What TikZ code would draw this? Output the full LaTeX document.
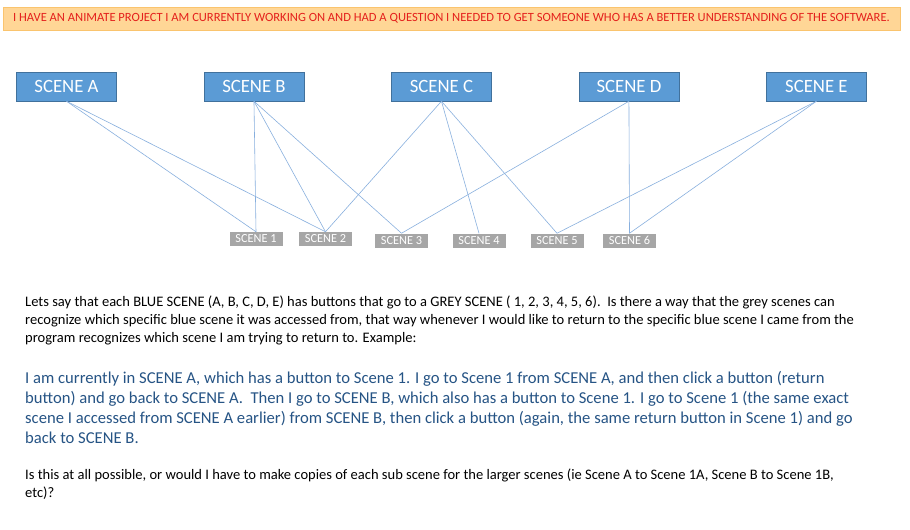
\documentclass[tikz,border=0pt]{standalone}
\usepackage{fontspec}
\setmainfont{Carlito}
\usepackage{tikz}
\usetikzlibrary{positioning}
\usepackage{xcolor}
\definecolor{scblue}{RGB}{91,155,213}
\definecolor{scblueline}{RGB}{65,113,156}
\definecolor{scgrey}{RGB}{166,166,166}
\definecolor{sclink}{RGB}{135,175,222}
\definecolor{banfill}{RGB}{255,214,150}
\definecolor{banline}{RGB}{250,196,110}
\definecolor{banred}{RGB}{228,32,28}
\definecolor{exblue}{RGB}{38,84,133}
\tikzstyle{bluescene} = [rectangle, minimum width=3cm, minimum height=0.87cm, text centered, draw=scblueline, fill=scblue, text=white, font=\fontsize{16}{19}\selectfont]
\tikzstyle{greyscene} = [rectangle, minimum width=1.59cm, minimum height=0.42cm, inner sep=0pt, fill=scgrey, text=white, font=\fontsize{10.5}{12}\selectfont]
\tikzstyle{link} = [line width=0.5pt, color=sclink]
\tikzstyle{para} = [anchor=base west, align=left, inner sep=0pt, font=\fontsize{12.4}{15.3}\selectfont]

\begin{document}
\begin{tikzpicture}[x=0.03cm, y=-0.03cm]
\fill[white] (0,0) rectangle (910,530);
\useasboundingbox (0,0) rectangle (910,530);

% Banner
\node[draw=banline, fill=banfill, minimum width=26.91cm, minimum height=0.69cm, text=banred, font=\fontsize{10.7}{12}\selectfont] (banner) at (451.5,18.5) {
I HAVE AN ANIMATE PROJECT I AM CURRENTLY WORKING ON AND HAD A QUESTION I NEEDED TO GET SOMEONE WHO HAS A BETTER UNDERSTANDING OF THE SOFTWARE.
};

% Blue scenes
\node[bluescene] (sa) at (66.5,86.5) {SCENE A};
\node[bluescene, right=2.61cm of sa] (sb) {SCENE B};
\node[bluescene, right=2.61cm of sb] (sc) {SCENE C};
\node[bluescene, right=2.61cm of sc] (sd) {SCENE D};
\node[bluescene, right=2.61cm of sd] (se) {SCENE E};

% Grey scenes
\node[greyscene] (s1) at (256,239) {SCENE 1};
\node[greyscene] (s2) at (325.5,239) {SCENE 2};
\node[greyscene] (s3) at (401.5,240.5) {SCENE 3};
\node[greyscene] (s4) at (479,240.5) {SCENE 4};
\node[greyscene] (s5) at (557,240.5) {SCENE 5};
\node[greyscene] (s6) at (629.5,240.5) {SCENE 6};

% Links
\draw[link] (sa.south) -- (s1.north);
\draw[link] (sa.south) -- (s2.north);
\draw[link] (sb.south) -- (s1.north);
\draw[link] (sb.south) -- (s2.north);
\draw[link] (sb.south) -- (s3.north);
\draw[link] (sc.south) -- (s2.north);
\draw[link] (sc.south) -- (s4.north);
\draw[link] (sc.south) -- (s5.north);
\draw[link] (sd.south) -- (s3.north);
\draw[link] (sd.south) -- (s6.north);
\draw[link] (se.south) -- (s5.north);
\draw[link] (se.south) -- (s6.north);

% Question text (base = last line)
\node[para] (q1) at (25,342) {
Lets say that each BLUE SCENE (A, B, C, D, E) has buttons that go to a GREY SCENE ( 1, 2, 3, 4, 5, 6).\ \ Is there a way that the grey scenes can\\
recognize which specific blue scene it was accessed from, that way whenever I would like to return to the specific blue scene I came from the\\
program recognizes which scene I am trying to return to. Example:
};
\node[para, text=exblue, font=\fontsize{14.2}{16.8}\selectfont] (q2) at (25,443) {
I am currently in SCENE A, which has a button to Scene 1. I go to Scene 1 from SCENE A, and then click a button (return\\
button) and go back to SCENE A.\ \ Then I go to SCENE B, which also has a button to Scene 1. I go to Scene 1 (the same exact\\
scene I accessed from SCENE A earlier) from SCENE B, then click a button (again, the same return button in Scene 1) and go\\
back to SCENE B.
};
\node[para] (q3) at (25,497) {
Is this at all possible, or would I have to make copies of each sub scene for the larger scenes (ie Scene A to Scene 1A, Scene B to Scene 1B,\\
etc)?
};
\end{tikzpicture}
\end{document}
